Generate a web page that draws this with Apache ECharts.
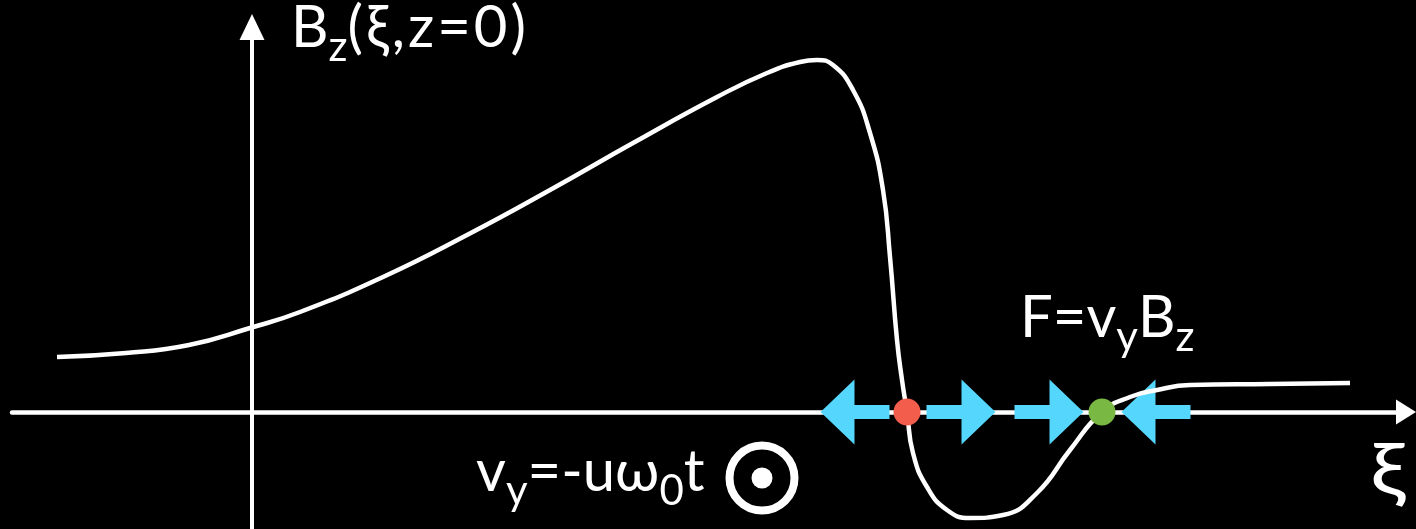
<!DOCTYPE html>
<html>
<head>
<meta charset="utf-8">
<script src="https://cdn.jsdelivr.net/npm/echarts@6/dist/echarts.min.js"></script>
<style>
  html, body { margin: 0; padding: 0; background: #000; }
  #chart { width: 1416px; height: 529px; }
</style>
</head>
<body>
<div id="chart"></div>
<script>
// field profile Bz(xi, z=0), arbitrary units
const xi = [-1.95, -1.26, -0.63, -0.02, 0.48, 1.31, 2.15, 2.98, 3.81, 4.65, 5.15, 5.48, 5.65, 5.81,
  6.01, 6.18, 6.31, 6.38, 6.45, 6.50, 6.55, 6.61, 6.75, 6.95, 7.18, 7.51, 7.85, 8.18, 8.50, 8.78,
  9.05, 9.38, 10.18, 10.98];
const bz = [0.55, 0.59, 0.67, 0.84, 1.00, 1.35, 1.77, 2.22, 2.69, 3.15, 3.39, 3.50, 3.52, 3.47,
  3.22, 2.79, 2.22, 1.55, 0.72, 0.32, 0.00, -0.41, -0.75, -0.98, -1.06, -1.03, -0.81, -0.38, 0.00,
  0.15, 0.22, 0.27, 0.28, 0.29];

// fixed points on the xi axis
const unstablePoint = [6.55, 0];
const stablePoint = [8.50, 0];

// force arrows along the axis
const arrowX = [6.03, 7.09, 7.97, 9.04];
const arrowDir = ['left', 'right', 'right', 'left'];

// "out of page" marker
const odotPoint = [5.10, -0.66];

const chart = echarts.init(document.getElementById('chart'), null, { renderer: 'canvas' });

const arrowPath = 'path://M0,25.5 L35,25.5 L35,0 L69,32.5 L35,65 L35,39.5 L0,39.5 Z';
const white = '#ffffff';
const font = 'Lato, "Open Sans", sans-serif';

const axisCommon = {
  type: 'value',
  axisTick: { show: false },
  axisLabel: { show: false },
  splitLine: { show: false }
};

const main = { fontSize: 58, lineHeight: 80, fill: white, fontFamily: font };
const wide = Object.assign({}, main, { padding: [0, 3, 0, 0] });
const sub = { fontSize: 42, padding: [38, 0, 0, 0], fill: white, fontFamily: font };

chart.setOption({
  backgroundColor: '#000',
  animation: false,
  grid: { left: 12, right: 10, top: 27, bottom: 0 },
  xAxis: Object.assign({}, axisCommon, {
    min: -2.4, max: 11.54,
    axisLine: { show: true, onZero: true, symbol: ['none', 'triangle'], symbolSize: [25, 20],
      lineStyle: { color: white, width: 4.5 } }
  }),
  yAxis: Object.assign({}, axisCommon, {
    min: -1.17, max: 3.85,
    axisLine: { show: true, onZero: true, symbol: ['none', 'triangle'], symbolSize: [25, 26],
      lineStyle: { color: white, width: 4 } }
  }),
  series: [
    {
      type: 'scatter',
      silent: true,
      z: 2,
      symbol: arrowPath,
      symbolSize: [69, 65],
      itemStyle: { color: '#55d6fd', opacity: 1 },
      data: arrowX.map((x, i) => ({ value: [x, 0], symbolRotate: arrowDir[i] === 'left' ? 180 : 0 }))
    },
    {
      type: 'line',
      silent: true,
      z: 3,
      smooth: 0.5,
      showSymbol: false,
      lineStyle: { color: white, width: 4.5 },
      data: xi.map((x, i) => [x, bz[i]])
    },
    {
      type: 'scatter',
      silent: true,
      z: 4,
      symbolSize: 27,
      data: [
        { value: unstablePoint, itemStyle: { color: '#f35d4c', opacity: 1 } },
        { value: stablePoint, itemStyle: { color: '#79b843', opacity: 1 } }
      ]
    },
    {
      type: 'scatter',
      silent: true,
      z: 4,
      data: [
        { value: odotPoint, symbol: 'circle', symbolSize: 65,
          itemStyle: { color: 'rgba(0,0,0,0)', borderColor: white, borderWidth: 8, opacity: 1 } },
        { value: odotPoint, symbol: 'circle', symbolSize: 21, itemStyle: { color: white, opacity: 1 } }
      ]
    }
  ],
  graphic: [
    {
      type: 'text', left: 291, top: -1, silent: true,
      style: { text: '{m|B}{s|z}{w|(}{w|ξ}{w|,}{w|z}{w|=}{w|0}{m|)}', rich: { m: main, w: wide, s: sub } }
    },
    {
      type: 'text', left: 1020, top: 289, silent: true,
      style: { text: '{m|F=v}{s|y}{m|B}{s|z}', rich: { m: main, s: sub } }
    },
    {
      type: 'text', left: 476, top: 443, silent: true,
      style: { text: '{m|v}{s|y}{m|=-uω}{s|0}{m|t}', rich: { m: main, s: sub } }
    },
    {
      type: 'text', left: 1370, top: 436, silent: true, scaleX: 1.25,
      style: { text: 'ξ', fontSize: 72, fill: white, fontFamily: font }
    }
  ]
});
</script>
</body>
</html>
